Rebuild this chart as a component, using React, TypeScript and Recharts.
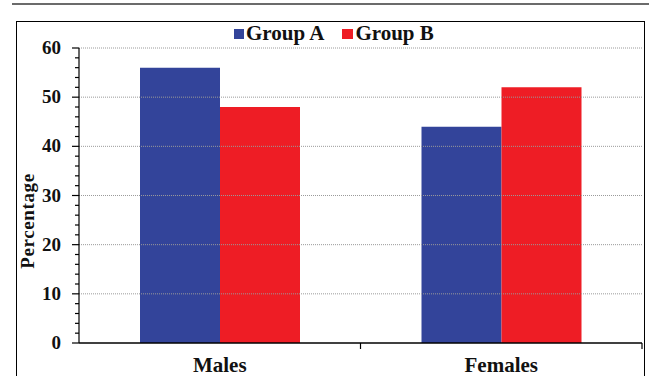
import React from 'react'
import { BarChart, Bar, XAxis, YAxis, ReferenceLine } from 'recharts'

const categories = ['Males', 'Females']
const groupA = [56, 44]
const groupB = [48, 52]
const yTicks = [0, 2, 4, 6, 8, 10, 12, 14, 16, 18, 20, 22, 24, 26, 28, 30, 32, 34, 36, 38, 40, 42, 44, 46, 48, 50, 52, 54, 56, 58, 60]
const gridValues = [10, 20, 30, 40, 50, 60]

const data = categories.map((c, i) => ({ name: c, a: groupA[i], b: groupB[i] }))

const BLUE = '#33449a'
const RED = '#ee1d25'
const AXIS_X = 79
const AXIS_Y = 343
const HALF_BAND = 140.75
const font = 'Liberation Serif'

function YTick(props: any) {
  const { y, payload } = props
  const major = payload.value % 10 === 0
  return (
    <g>
      <line x1={major ? AXIS_X - 7 : AXIS_X - 4} x2={AXIS_X} y1={y} y2={y} stroke="#000" strokeWidth={1.2} />
      {major && (
        <text x={61} y={y + 6} textAnchor="end" fontFamily={font} fontWeight="bold" fontSize={19} fill="#111">
          {payload.value}
        </text>
      )}
    </g>
  )
}

function XTick(props: any) {
  const { x, payload } = props
  return (
    <g>
      <line x1={x + HALF_BAND} x2={x + HALF_BAND} y1={AXIS_Y} y2={AXIS_Y + 6} stroke="#000" strokeWidth={1.2} />
      <text x={x} y={372} textAnchor="middle" fontFamily={font} fontWeight="bold" fontSize={21} fill="#111">
        {payload.value}
      </text>
    </g>
  )
}

function YLabel() {
  return (
    <text
      x={27}
      y={221}
      transform="rotate(-90 27 221)"
      textAnchor="middle"
      dominantBaseline="central"
      fontFamily={font}
      fontWeight="bold"
      fontSize={19}
      letterSpacing={0.6}
      fill="#111"
    >
      Percentage
    </text>
  )
}

export default function App() {
  return (
    <div style={{ position: 'absolute', left: 0, top: 0, width: 649, height: 376, background: '#fff', overflow: 'hidden' }}>
      <div style={{ position: 'absolute', left: 12, top: 3, width: 637, height: 2, background: '#6b6b6b' }} />
      <div style={{ position: 'absolute', left: 16, top: 21, width: 627, height: 380, border: '1.5px solid #000' }} />
      <div
        style={{
          position: 'absolute',
          left: 234,
          top: 21,
          display: 'flex',
          alignItems: 'center',
          fontFamily: font,
          fontWeight: 'bold',
          fontSize: 21,
          color: '#111',
          whiteSpace: 'nowrap'
        }}
      >
        <span style={{ width: 10, height: 10, background: BLUE, display: 'inline-block', marginRight: 2 }} />
        <span>Group A</span>
        <span style={{ width: 11, height: 10, background: RED, display: 'inline-block', marginLeft: 18, marginRight: 2 }} />
        <span>Group B</span>
      </div>
      <div style={{ position: 'absolute', left: 0, top: 0 }}>
        <BarChart
          width={649}
          height={376}
          data={data}
          margin={{ top: 48, right: 7, left: 0, bottom: 0 }}
          barGap={0}
          barCategoryGap={61}
        >
          {gridValues.map(v => (
            <ReferenceLine key={v} y={v} stroke="#9a9a9a" strokeDasharray="1 1" ifOverflow="extendDomain" />
          ))}
          <XAxis
            dataKey="name"
            height={33}
            axisLine={{ stroke: '#000', strokeWidth: 1.5 }}
            tickLine={false}
            tick={<XTick />}
            interval={0}
          />
          <YAxis
            width={AXIS_X}
            domain={[0, 60]}
            ticks={yTicks}
            interval={0}
            axisLine={{ stroke: '#000', strokeWidth: 1.2 }}
            tickLine={false}
            tick={<YTick />}
          />
          <Bar dataKey="a" name="Group A" fill={BLUE} isAnimationActive={false} />
          <Bar dataKey="b" name="Group B" fill={RED} isAnimationActive={false} />
        </BarChart>
      </div>
      <svg width={649} height={376} style={{ position: 'absolute', left: 0, top: 0, pointerEvents: 'none' }}>
        <YLabel />
      </svg>
    </div>
  )
}
